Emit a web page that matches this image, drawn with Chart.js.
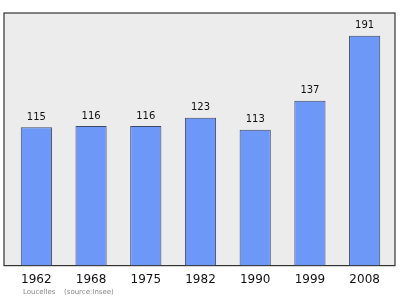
<!DOCTYPE html>
<html>
<head>
<meta charset="utf-8">
<script src="https://cdn.jsdelivr.net/npm/chart.js@4/dist/chart.umd.min.js"></script>
<style>
  html, body { margin: 0; padding: 0; background: #fff; }
  #wrap { width: 400px; height: 299px; }
</style>
</head>
<body>
<div id="wrap"><canvas id="popChart"></canvas></div>
<script>
// population by census year
var years = ['1962', '1968', '1975', '1982', '1990', '1999', '2008'];
var population = [115, 116, 116, 123, 113, 137, 191];
var commune = 'Loucelles';
var source = '(source:Insee)';

// grey panel with dark frame behind the bars
var framePlugin = {
    id: 'frame',
    beforeDraw: function (chart) {
        var a = chart.chartArea;
        var c = chart.ctx;
        c.save();
        c.fillStyle = '#ececec';
        c.fillRect(a.left - 5, a.top, a.right - a.left + 8, a.bottom - a.top);
        c.strokeStyle = '#333333';
        c.lineWidth = 1.2;
        c.strokeRect(a.left - 5, a.top, a.right - a.left + 8, a.bottom - a.top);
        c.restore();
    }
};

// value over every bar + footer text
var labelPlugin = {
    id: 'labels',
    afterDatasetsDraw: function (chart) {
        var c = chart.ctx;
        var meta = chart.getDatasetMeta(0);
        c.save();
        c.font = '10px "DejaVu Sans"';
        c.fillStyle = '#111';
        c.textAlign = 'center';
        c.textBaseline = 'bottom';
        meta.data.forEach(function (bar, i) {
            c.fillText(population[i], bar.x, bar.y - 5);
        });
        c.font = '7px "DejaVu Sans"';
        c.fillStyle = '#888';
        c.textAlign = 'left';
        c.textBaseline = 'middle';
        c.fillText(commune, 23, 292);
        c.fillText(source, 64, 292);
        c.restore();
    }
};

var ctx = document.getElementById('popChart').getContext('2d');
var myChart = new Chart(ctx, {
    type: 'bar',
    data: {
        labels: years,
        datasets: [{
            data: population,
            backgroundColor: '#6e98f8',
            borderColor: '#3d4a66',
            borderWidth: 1,
            barPercentage: 0.57,
            categoryPercentage: 1
        }]
    },
    options: {
        responsive: true,
        maintainAspectRatio: false,
        animation: false,
        layout: {
            padding: { left: 9, right: 8, top: 13, bottom: 5 }
        },
        plugins: {
            legend: { display: false },
            tooltip: { enabled: false }
        },
        scales: {
            x: {
                grid: { display: false, drawTicks: false, tickLength: 0 },
                border: { display: false },
                ticks: {
                    color: '#111',
                    padding: 7,
                    font: { family: 'DejaVu Sans', size: 12 }
                }
            },
            y: {
                display: false,
                min: 0,
                max: 210
            }
        }
    },
    plugins: [framePlugin, labelPlugin]
});
</script>
</body>
</html>
